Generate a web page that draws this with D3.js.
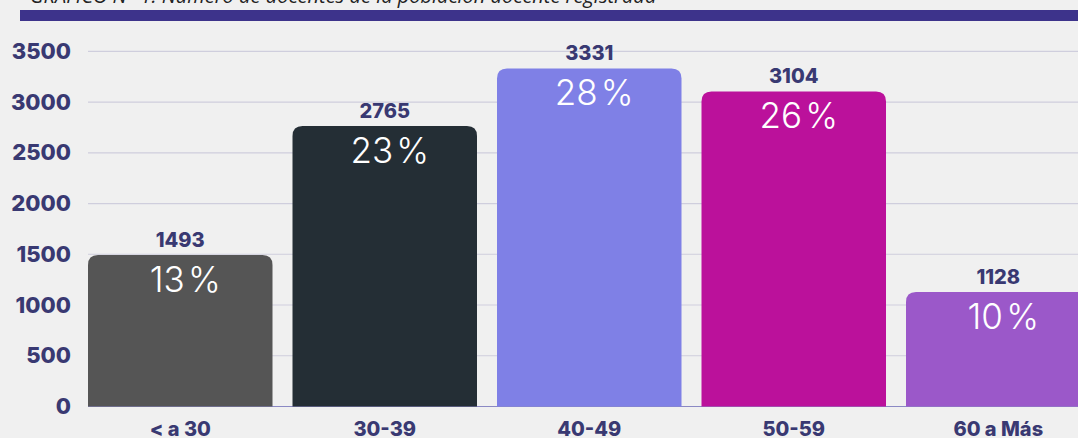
<!DOCTYPE html>
<html>
<head>
<meta charset="utf-8">
<script src="https://cdn.jsdelivr.net/npm/d3@7"></script>
<style>
  html, body { margin: 0; padding: 0; background: #f0f0f0; }
  svg { display: block; }
</style>
</head>
<body>
<div id="chart"></div>
<script>
// data
const categories = ["< a 30", "30-39", "40-49", "50-59", "60 a Más"];
const values = [1493, 2765, 3331, 3104, 1128];
const percents = ["13", "23", "28", "26", "10"];
const colors = ["#555555", "#242e35", "#7f80e6", "#bb119b", "#9b58c9"];
const yTicks = [0, 500, 1000, 1500, 2000, 2500, 3000, 3500];
const title = "GRÁFICO N° 1: Número de docentes de la población docente registrada";

const width = 1078, height = 438;
const navy = "#393972";

const svg = d3.select("#chart").append("svg")
    .attr("width", width).attr("height", height);

svg.append("rect").attr("width", width).attr("height", height).attr("fill", "#f0f0f0");

// title is cut off at the top edge, only its bottom shows
svg.append("text")
    .attr("x", 30).attr("y", 3)
    .attr("font-family", "Open Sans").attr("font-style", "italic")
    .attr("font-size", 20).attr("fill", "#222")
    .text(title);
svg.append("rect")
    .attr("x", 20).attr("y", 10).attr("width", width - 20).attr("height", 11)
    .attr("fill", "#3d338b");

const x = d3.scaleBand()
    .domain(categories)
    .range([88, 1090.5])
    .paddingInner(0.0978)
    .paddingOuter(0);

const y = d3.scaleLinear()
    .domain([0, 3500])
    .range([406.5, 51.3]);

// grid
svg.append("g")
    .selectAll("line")
    .data(yTicks.slice(1))
    .join("line")
    .attr("x1", 88).attr("x2", width)
    .attr("y1", d => y(d)).attr("y2", d => y(d))
    .attr("stroke", "#cfcedd").attr("stroke-width", 1.2);

svg.append("line")
    .attr("x1", 88).attr("x2", width)
    .attr("y1", y(0)).attr("y2", y(0))
    .attr("stroke", "#8b89c4").attr("stroke-width", 1.2);

// y axis labels
const yAxis = svg.append("g")
    .attr("transform", "translate(71,0)")
    .call(d3.axisLeft(y).tickValues(yTicks).tickFormat(d3.format("d")).tickSize(0).tickPadding(0));
yAxis.select(".domain").remove();
yAxis.selectAll("text")
    .attr("font-family", "Inter").attr("font-weight", 800)
    .attr("font-size", 22).attr("fill", navy);

// x axis labels
const xAxis = svg.append("g")
    .attr("transform", `translate(0,${y(0)})`)
    .call(d3.axisBottom(x).tickSize(0).tickPadding(0));
xAxis.select(".domain").remove();
xAxis.selectAll("text")
    .attr("dy", null)
    .attr("y", 29)
    .attr("font-family", "Inter").attr("font-weight", 800)
    .attr("font-size", 20).attr("fill", navy);

// bars with rounded top corners
const r = 10;
function barPath(d, i) {
  const x0 = x(categories[i]), w = x.bandwidth();
  const top = y(d), bot = y(0);
  return `M${x0},${bot} V${top + r} Q${x0},${top} ${x0 + r},${top} H${x0 + w - r} Q${x0 + w},${top} ${x0 + w},${top + r} V${bot} Z`;
}

svg.append("g")
    .selectAll("path")
    .data(values)
    .join("path")
    .attr("d", barPath)
    .attr("fill", (d, i) => colors[i]);

// value labels
svg.append("g")
    .selectAll("text")
    .data(values)
    .join("text")
    .attr("x", (d, i) => x(categories[i]) + x.bandwidth() / 2)
    .attr("y", d => y(d) - 8)
    .attr("text-anchor", "middle")
    .attr("font-family", "Inter").attr("font-weight", 800)
    .attr("font-size", 20).attr("fill", navy)
    .text(d => d);

// percent labels
svg.append("g")
    .selectAll("text")
    .data(values)
    .join("text")
    .attr("x", (d, i) => x(categories[i]) + x.bandwidth() / 2 + 5)
    .attr("y", d => y(d) + 37)
    .attr("text-anchor", "middle")
    .attr("font-family", "Inter").attr("font-weight", 300)
    .attr("font-size", 35).attr("fill", "#ffffff")
    .text((d, i) => percents[i] + "\u200A%");
</script>
</body>
</html>
